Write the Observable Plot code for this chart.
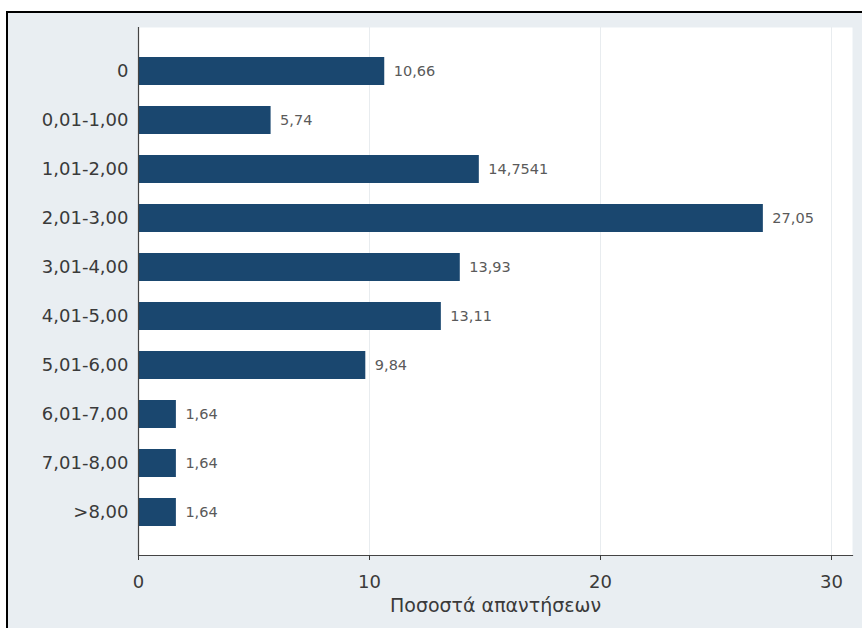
<!DOCTYPE html>
<html>
<head>
<meta charset="utf-8">
<script src="https://cdn.jsdelivr.net/npm/d3@7"></script>
<script src="https://cdn.jsdelivr.net/npm/@observablehq/plot@0.6"></script>
<style>
  html, body { margin: 0; padding: 0; background: #ffffff; width: 862px; height: 628px; overflow: hidden; }
  #wrap { position: relative; width: 862px; height: 628px; }
  #panel { position: absolute; left: 6px; top: 11px; width: 900px; height: 700px;
           border-left: 2px solid #000; border-top: 2px solid #000; background: #e9eef2; }
  #chart { position: absolute; left: 0; top: 0; }
</style>
</head>
<body>
<div id="wrap">
  <div id="panel"></div>
  <div id="chart"></div>
</div>
<script>
const categories = ["0", "0,01-1,00", "1,01-2,00", "2,01-3,00", "3,01-4,00", "4,01-5,00", "5,01-6,00", "6,01-7,00", "7,01-8,00", ">8,00"];
const values = [10.66, 5.74, 14.7541, 27.05, 13.93, 13.11, 9.84, 1.64, 1.64, 1.64];
const xTicks = [0, 10, 20, 30];
const xTitle = "Ποσοστά απαντήσεων";

const data = categories.map((c, i) => ({cat: c, value: values[i], label: String(values[i]).replace(".", ",")}));

const chart = Plot.plot({
  width: 862,
  height: 628,
  marginLeft: 138,
  marginRight: 10,
  marginTop: 27,
  marginBottom: 73,
  style: {background: "transparent", fontFamily: "DejaVu Sans", color: "#3a3a3a"},
  x: {domain: [0, 30], range: [138, 831]},
  y: {domain: categories, range: [27, 555], paddingInner: 0.43, paddingOuter: 0.58},
  marks: [
    Plot.frame({fill: "white", stroke: "none"}),
    Plot.gridX(xTicks.slice(1), {stroke: "#e8ecef", strokeOpacity: 1}),
    Plot.barX(data, {y: "cat", x: "value", fill: "#1a476f"}),
    Plot.text(data, {y: "cat", x: "value", text: "label", textAnchor: "start", dx: 9, fill: "#5a5a5a", fontSize: 14.5}),
    Plot.ruleX([0], {stroke: "#444", strokeWidth: 1.2}),
    Plot.frame({anchor: "bottom", stroke: "#444", strokeWidth: 1.2}),
    Plot.axisX(xTicks, {tickSize: 5, tickPadding: 15, fontSize: 18, color: "#3a3a3a",
      label: xTitle, labelAnchor: "center", labelOffset: 56, labelArrow: false}),
    Plot.axisY({tickSize: 0, tickPadding: 10, fontSize: 18, color: "#3a3a3a", label: null})
  ]
});
const lbl = chart.querySelectorAll("g[aria-label='x-axis label'] text");
lbl.forEach(t => t.setAttribute("font-size", 19));
document.getElementById("chart").appendChild(chart);
</script>
</body>
</html>
